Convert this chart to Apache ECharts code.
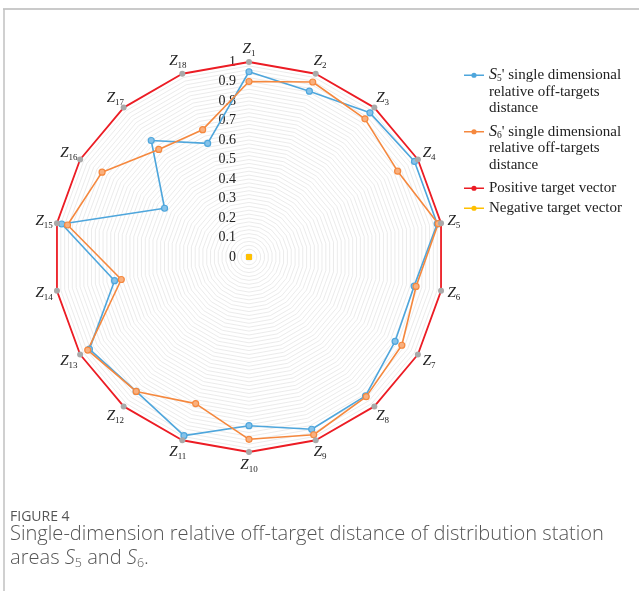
<!DOCTYPE html>
<html><head><meta charset="utf-8">
<script src="https://cdn.jsdelivr.net/npm/echarts@6/dist/echarts.min.js"></script>
<style>html,body{margin:0;padding:0;background:#fff}#c{width:639px;height:591px}</style>
</head><body><div id="c"></div>
<script>
// ---- data ----
const categories = ['Z1','Z2','Z3','Z4','Z5','Z6','Z7','Z8','Z9','Z10','Z11','Z12','Z13','Z14','Z15','Z16','Z17','Z18'];
const s5Values = [0.95, 0.905, 0.965, 0.98, 0.98, 0.86, 0.865, 0.93, 0.94, 0.865, 0.975, 0.90, 0.945, 0.70, 0.975, 0.50, 0.78, 0.62];
const s6Values = [0.90, 0.955, 0.925, 0.88, 0.985, 0.87, 0.905, 0.935, 0.97, 0.935, 0.80, 0.90, 0.955, 0.665, 0.945, 0.87, 0.72, 0.695];
const positiveValues = [1, 1, 1, 1, 1, 1, 1, 1, 1, 1, 1, 1, 1, 1, 1, 1, 1, 1];
const negativeValues = [0, 0, 0, 0, 0, 0, 0, 0, 0, 0, 0, 0, 0, 0, 0, 0, 0, 0];
const tickLabels = ['0','0.1','0.2','0.3','0.4','0.5','0.6','0.7','0.8','0.9','1'];
const seriesNames = ['S5', 'S6', 'Positive target vector', 'Negative target vector'];
const legendTexts = {
  'S5': "{i|S}{sub|5}' single dimensional\nrelative off-targets\ndistance",
  'S6': "{i|S}{sub|6}' single dimensional\nrelative off-targets\ndistance",
  'Positive target vector': 'Positive target vector',
  'Negative target vector': 'Negative target vector'
};

// ---- styles ----
const BLUE = '#4ea6dc', ORANGE = '#f5883e', RED = '#ec1c24', GRAY = '#a9a9a9', YELLOW = '#ffc000';
const SERIF = 'Liberation Serif';

// radar in ECharts runs counter-clockwise: reorder so Z1 is on top and Z2 to its right
const order = [0].concat(categories.map((_, i) => categories.length - 1 - i).slice(0, categories.length - 1));
const reorder = arr => order.map(i => arr[i]);

const indicators = order.map((i, k) => {
  const ind = { name: categories[i], min: 0, max: 1 };
  if (k === 0) {
    ind.axisLabel = {
      show: true, margin: 13, fontFamily: SERIF, fontSize: 14, color: '#222',
      formatter: function (v) {
        const t = Math.round(v * 10);
        if (Math.abs(v * 10 - t) < 1e-6) return tickLabels[t];
        return '';
      }
    };
  }
  return ind;
});

const legendRich = {
  i: { fontFamily: SERIF, fontStyle: 'italic', fontSize: 16, lineHeight: 16.5, color: '#222' },
  sub: { fontFamily: SERIF, fontSize: 9.5, lineHeight: 8, verticalAlign: 'bottom', color: '#222' }
};
const legendText = { fontFamily: SERIF, fontSize: 15, color: '#222', lineHeight: 16.5, rich: legendRich };
const iconTop = 'path://M0,0 L0,0 M20,40 L20,40 M0,2.75 H20 V4.25 H0 Z M7.4,3.5 A2.6,2.6 0 1 1 12.6,3.5 A2.6,2.6 0 1 1 7.4,3.5 Z';
const iconMid = 'path://M0,0 L0,0 M20,8 L20,8 M0,3.25 H20 V4.75 H0 Z M7.4,4 A2.6,2.6 0 1 1 12.6,4 A2.6,2.6 0 1 1 7.4,4 Z';

const chart = echarts.init(document.getElementById('c'), null, { renderer: 'canvas' });
chart.setOption({
  animation: false,
  backgroundColor: '#fff',
  graphic: [
    { type: 'line', shape: { x1: 3, y1: 9, x2: 639, y2: 9 }, style: { stroke: '#cacaca', lineWidth: 2 } },
    { type: 'line', shape: { x1: 4, y1: 9, x2: 4, y2: 591 }, style: { stroke: '#c0c0c0', lineWidth: 1.5 } }
  ],
  title: [
    { text: 'FIGURE 4', left: 10, top: 509, padding: 0,
      textStyle: { fontFamily: 'Open Sans', fontSize: 14, fontWeight: 'normal', color: '#555', lineHeight: 16 } },
    { text: 'Single-dimension relative off-target distance of distribution station\nareas {i|S}{sub|5} and {i|S}{sub|6}.',
      left: 10, top: 522, padding: 0,
      textStyle: { fontFamily: 'Open Sans', fontSize: 20.1, fontWeight: 300, color: '#555', lineHeight: 24,
        rich: {
          i: { fontFamily: 'Open Sans', fontStyle: 'italic', fontWeight: 300, fontSize: 20.1, color: '#555', lineHeight: 24 },
          sub: { fontFamily: 'Open Sans', fontWeight: 300, fontSize: 12.5, color: '#555', lineHeight: 14, verticalAlign: 'bottom' }
        } } }
  ],
  legend: [
    { orient: 'vertical', left: 464, top: 67, padding: 0, itemGap: 7, itemWidth: 20, itemHeight: 40,
      icon: iconTop, selectedMode: false, itemStyle: { borderWidth: 0 },
      data: [{ name: seriesNames[0], itemStyle: { color: BLUE } }, { name: seriesNames[1], itemStyle: { color: ORANGE } }],
      formatter: n => legendTexts[n], textStyle: legendText },
    { orient: 'vertical', left: 464, top: 180, padding: 0, itemGap: 3.5, itemWidth: 20, itemHeight: 8,
      icon: iconMid, selectedMode: false, itemStyle: { borderWidth: 0 },
      data: [{ name: seriesNames[2], itemStyle: { color: RED } }, { name: seriesNames[3], itemStyle: { color: YELLOW } }],
      formatter: n => legendTexts[n], textStyle: legendText }
  ],
  radar: {
    center: [249, 257], radius: 195, startAngle: 90, shape: 'polygon', splitNumber: 50,
    indicator: indicators,
    nameGap: 13,
    axisName: {
      color: '#222', align: 'center', verticalAlign: 'middle',
      formatter: n => '{z|Z}{s|' + n.slice(1) + '}',
      rich: {
        z: { fontFamily: SERIF, fontStyle: 'italic', fontSize: 15, lineHeight: 18, color: '#222' },
        s: { fontFamily: SERIF, fontSize: 9, lineHeight: 8, verticalAlign: 'bottom', color: '#222' }
      }
    },
    axisLine: { show: false },
    axisTick: { show: false },
    axisLabel: { show: false },
    splitLine: { lineStyle: { color: '#e6e6e6', width: 0.8 } },
    splitArea: { show: false }
  },
  series: [{
    type: 'radar',
    silent: true,
    data: [
      { name: seriesNames[0], value: reorder(s5Values), symbol: 'circle', symbolSize: 6,
        lineStyle: { color: BLUE, width: 1.6 }, itemStyle: { color: '#86c3ea', borderColor: BLUE, borderWidth: 1.2 } },
      { name: seriesNames[1], value: reorder(s6Values), symbol: 'circle', symbolSize: 6,
        lineStyle: { color: ORANGE, width: 1.6 }, itemStyle: { color: '#f9b07e', borderColor: ORANGE, borderWidth: 1.2 } },
      { name: seriesNames[2], value: reorder(positiveValues), symbol: 'circle', symbolSize: 6,
        lineStyle: { color: RED, width: 1.8 }, itemStyle: { color: GRAY, borderColor: GRAY, borderWidth: 0 } },
      { name: seriesNames[3], value: reorder(negativeValues), symbol: 'circle', symbolSize: 6,
        lineStyle: { color: YELLOW, width: 1.5 }, itemStyle: { color: YELLOW, borderColor: YELLOW, borderWidth: 0 } }
    ]
  }]
});
</script>
</body></html>
